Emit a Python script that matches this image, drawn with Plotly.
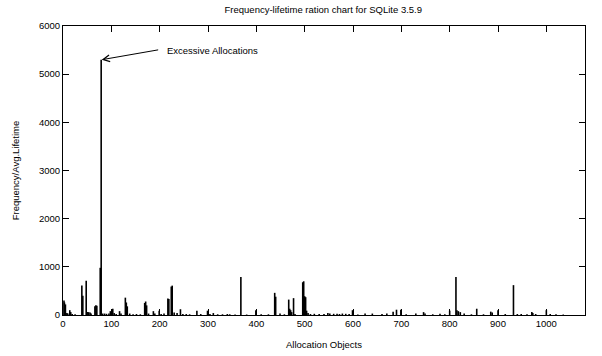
import plotly.graph_objects as go

alloc_ids = [2, 3, 5, 8, 10, 14, 16, 19, 25, 39, 41, 48, 50, 53, 56, 58, 66, 68, 70, 77, 79,
             82, 86, 90, 95, 98, 101, 103, 106, 110, 117, 120, 129, 131, 133, 138, 145, 152,
             160, 169, 171, 173, 177, 187, 190, 199, 203, 209, 217, 219, 224, 226, 230, 236,
             243, 248, 255, 262, 277, 285, 299, 304, 311, 320, 330, 340, 345, 356, 368, 380,
             399, 410, 425, 438, 440, 449, 458, 467, 469, 471, 473, 477, 480, 496, 498, 500,
             502, 504, 507, 512, 520, 530, 540, 548, 552, 560, 567, 572, 578, 585, 592, 599,
             610, 625, 640, 660, 670, 683, 690, 699, 710, 730, 746, 749, 765, 780, 790, 800,
             813, 815, 818, 822, 830, 845, 856, 870, 885, 888, 900, 915, 932, 940, 948, 960,
             970, 972, 978, 1000, 1008, 1020, 1035]
ratios = [300, 260, 220, 40, 30, 100, 60, 20, 15, 610, 400, 710, 60, 60, 50, 30, 180, 200, 190, 980, 5300,
          30, 30, 25, 30, 80, 40, 130, 40, 20, 80, 30, 360, 260, 180, 30, 15, 20,
          15, 250, 280, 200, 30, 80, 30, 90, 20, 30, 340, 330, 590, 610, 50, 40,
          120, 20, 20, 15, 90, 20, 90, 20, 40, 15, 15, 20, 15, 10, 790, 10,
          100, 15, 15, 460, 380, 30, 15, 320, 130, 100, 60, 350, 20, 680, 700, 390,
          370, 90, 40, 20, 25, 20, 20, 40, 30, 25, 25, 20, 30, 25, 20, 100,
          10, 30, 30, 20, 30, 70, 110, 110, 15, 30, 60, 30, 15, 25, 15, 90,
          790, 100, 80, 60, 30, 15, 130, 15, 70, 50, 100, 20, 620, 20, 20, 15,
          60, 40, 20, 100, 20, 15, 10]

title_text = "Frequency-lifetime ration chart for SQLite 3.5.9"
x_label = "Allocation Objects"
y_label = "Frequency/Avg.Lifetime"
x_ticks = list(range(0, 1001, 100))
y_ticks = list(range(0, 6001, 1000))
note_text = "Excessive Allocations"
note_xy = (210, 5500)
arrow_tail = (200, 5510)
arrow_tip = (80, 5300)

# impulses
xs, ys = [], []
for a, r in zip(alloc_ids, ratios):
    xs += [a, a, None]
    ys += [0, r, None]

fig = go.Figure()
fig.add_trace(go.Scatter(x=xs, y=ys, mode="lines",
                         line=dict(color="black", width=1.6),
                         showlegend=False, hoverinfo="skip"))

font_family = "Liberation Sans, Arial, sans-serif"
fig.update_layout(
    width=602, height=356,
    margin=dict(l=63, r=17, t=26, b=41),
    paper_bgcolor="white", plot_bgcolor="white",
    font=dict(family=font_family, size=9.5, color="black"),
    title=dict(text=title_text, x=0.537, xanchor="center", y=0.972, yanchor="middle",
               font=dict(size=9.5, family=font_family, color="black")),
    showlegend=False,
)
axis_common = dict(showline=True, linecolor="black", linewidth=1, mirror="ticks",
                   ticks="inside", ticklen=6, tickcolor="black", tickwidth=1,
                   showgrid=False, zeroline=False, automargin=False,
                   tickfont=dict(size=9.5, family=font_family, color="black"))
fig.update_xaxes(range=[0, 1080], tickvals=x_ticks, ticktext=[str(v) for v in x_ticks],
                 title=dict(text=x_label, standoff=12, font=dict(size=9.5)), **axis_common)
fig.update_yaxes(range=[0, 6000], tickvals=y_ticks, ticktext=[str(v) for v in y_ticks],
                 title=dict(text=y_label, standoff=17, font=dict(size=9.5)), **axis_common)

fig.add_annotation(x=arrow_tip[0], y=arrow_tip[1], ax=arrow_tail[0], ay=arrow_tail[1],
                   xref="x", yref="y", axref="x", ayref="y", text="",
                   showarrow=True, arrowhead=5, arrowsize=1.3, arrowwidth=1, arrowcolor="black")
fig.add_annotation(x=note_xy[0], y=note_xy[1], xref="x", yref="y", text=note_text,
                   showarrow=False, xanchor="left", yanchor="middle",
                   font=dict(size=9.5, family=font_family, color="black"))

fig.write_html("out.html")
